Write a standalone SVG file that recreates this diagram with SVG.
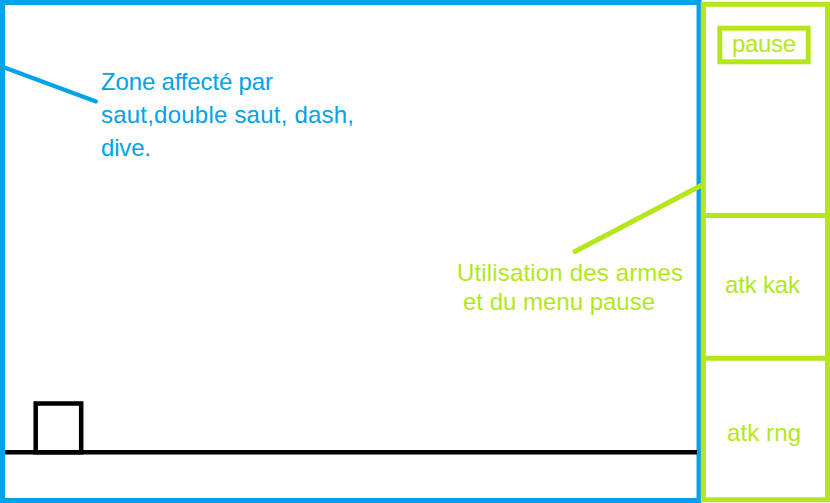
<svg xmlns="http://www.w3.org/2000/svg" width="830" height="503" viewBox="0 0 830 503">
<style>
.blue{fill:none;stroke:#00A2E8;stroke-width:5}
.green{fill:none;stroke:#B5E61D;stroke-width:5}
.blk{fill:none;stroke:#000;stroke-width:4.5}
.t{font-family:"Liberation Sans",Arial,sans-serif;font-size:24px}
.tb{fill:#00A2E8}
.tg{fill:#B5E61D}
</style>
<rect width="830" height="503" fill="#fff"/>
<g id="game-zone">
<rect class="blue" x="2.5" y="2.5" width="696.5" height="498"/>
<text class="t tb" x="101" y="90" textLength="172">Zone affecté par</text>
<text class="t tb" x="101" y="123" textLength="253">saut,double saut, dash,</text>
<text class="t tb" x="101" y="156" textLength="50">dive.</text>
</g>
<g id="ground">
<line class="blk" x1="5" y1="452.3" x2="697" y2="452.3"/>
</g>
<g id="player">
<rect class="blk" x="35.7" y="403.5" width="45.5" height="48.8"/>
</g>
<g id="control-panel">
<rect class="green" x="703.3" y="4.3" width="124.2" height="495.5"/>
<line class="green" x1="703" y1="215.5" x2="828" y2="215.5"/>
<line class="green" x1="703" y1="358.2" x2="828" y2="358.2"/>
<text class="t tg" x="457" y="281" textLength="226">Utilisation des armes</text>
<text class="t tg" x="463" y="310" textLength="192">et du menu pause</text>
</g>
<g id="pause">
<rect class="green" x="719.8" y="28.2" width="88.4" height="33.6"/>
<text class="t tg" x="732" y="52" textLength="64">pause</text>
</g>
<g id="atk-kak">
<text class="t tg" x="725" y="293" textLength="75">atk kak</text>
</g>
<g id="atk-rng">
<text class="t tg" x="727" y="441" textLength="74">atk rng</text>
</g>
<g id="connectors">
<line x1="3" y1="67" x2="96" y2="101.5" stroke="#00A2E8" stroke-width="4" stroke-linecap="round"/>
<line x1="575" y1="251.5" x2="702" y2="185" stroke="#B5E61D" stroke-width="5" stroke-linecap="round"/>
</g>
</svg>
